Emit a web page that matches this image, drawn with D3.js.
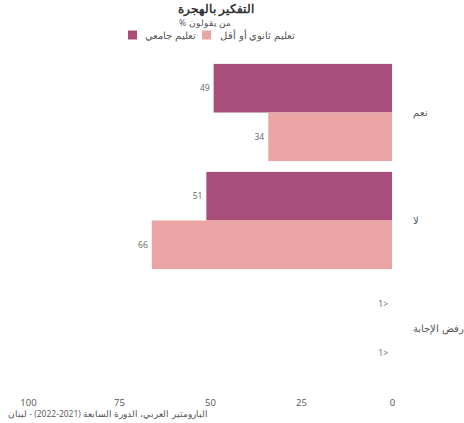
<!DOCTYPE html>
<html><head><meta charset="utf-8">
<script src="https://cdn.jsdelivr.net/npm/d3@7"></script>
<style>body{margin:0;background:#fff;}svg{font-family:"Open Sans","Noto Sans",sans-serif;}</style>
</head><body>
<script>
const categories = ["نعم", "لا", "رفض الإجابة"];
const seriesNames = ["تعليم جامعي", "تعليم ثانوي أو أقل"];
const universityValues = [49, 51, 0];
const secondaryValues = [34, 66, 0];
const valueLabels = [["49", "51", "<1"], ["34", "66", "<1"]];
const xTicks = [0, 25, 50, 75, 100];
const colors = ["#A94E7B", "#EAA5A4"];

const W = 464, H = 423;
const svg = d3.select("body").append("svg").attr("width", W).attr("height", H);

const x = d3.scaleLinear().domain([0, 100]).range([392, 28]);
const y = d3.scaleBand().domain(categories).range([58.5, 382.5]).paddingInner(0.1).paddingOuter(0.05);
const sub = d3.scaleBand().domain([0, 1]).range([0, y.bandwidth()]);

const series = [universityValues, secondaryValues];

series.forEach((vals, si) => {
  svg.append("g").selectAll("rect").data(categories.filter((c, i) => vals[i] > 0)).join("rect")
    .attr("x", c => x(vals[categories.indexOf(c)]))
    .attr("y", c => y(c) + sub(si))
    .attr("width", c => x(0) - x(vals[categories.indexOf(c)]))
    .attr("height", sub.bandwidth())
    .attr("fill", colors[si]);
  svg.append("g").selectAll("text").data(categories).join("text")
    .attr("x", (c, i) => x(vals[i]) - 4)
    .attr("y", c => y(c) + sub(si) + sub.bandwidth() / 2)
    .attr("dy", "0.35em")
    .attr("direction", "rtl")
    .attr("text-anchor", "start")
    .attr("font-size", 8.5).attr("fill", "#666")
    .text((c, i) => valueLabels[si][i]);
});

// category labels
svg.append("g").selectAll("text").data(categories).join("text")
  .attr("x", 413)
  .attr("y", c => y(c) + y.bandwidth() / 2)
  .attr("dy", "0.35em")
  .attr("text-anchor", "start")
  .attr("font-size", 10).attr("fill", "#555")
  .text(c => c);

// x axis
const xAxis = svg.append("g").attr("transform", "translate(0,399)")
  .call(d3.axisBottom(x).tickValues(xTicks).tickSize(0).tickPadding(0));
xAxis.select(".domain").remove();
xAxis.selectAll("text").attr("font-size", 9.5).attr("fill", "#555").attr("font-family", "'Open Sans','Noto Sans',sans-serif");

// title
svg.append("text").attr("x", 216).attr("y", 12.5).attr("text-anchor", "middle")
  .attr("font-size", 12).attr("font-weight", "bold").attr("fill", "#333").text("التفكير بالهجرة");
svg.append("text").attr("x", 186).attr("y", 26).attr("text-anchor", "end")
  .attr("font-size", 8.5).attr("fill", "#555").text("%");
svg.append("text").attr("x", 189).attr("y", 26).attr("text-anchor", "start")
  .attr("font-size", 8.5).attr("fill", "#555").text("من يقولون");

// legend
const legend = [
  { name: seriesNames[0], color: colors[0], sx: 128, tx: 196 },
  { name: seriesNames[1], color: colors[1], sx: 202, tx: 295 }
];
legend.forEach(l => {
  svg.append("rect").attr("x", l.sx).attr("y", 30.5).attr("width", 9).attr("height", 9).attr("fill", l.color);
  svg.append("text").attr("x", l.tx).attr("y", 39).attr("text-anchor", "end")
    .attr("font-size", 10).attr("fill", "#555").text(l.name);
});

// footer
svg.append("text").attr("x", 8).attr("y", 417)
  .attr("font-size", 8.5).attr("fill", "#555").attr("direction", "rtl").attr("text-anchor", "end")
  .text("البارومتير العربي، الدورة السابعة (2021-2022) - لبنان");
</script>
</body></html>
